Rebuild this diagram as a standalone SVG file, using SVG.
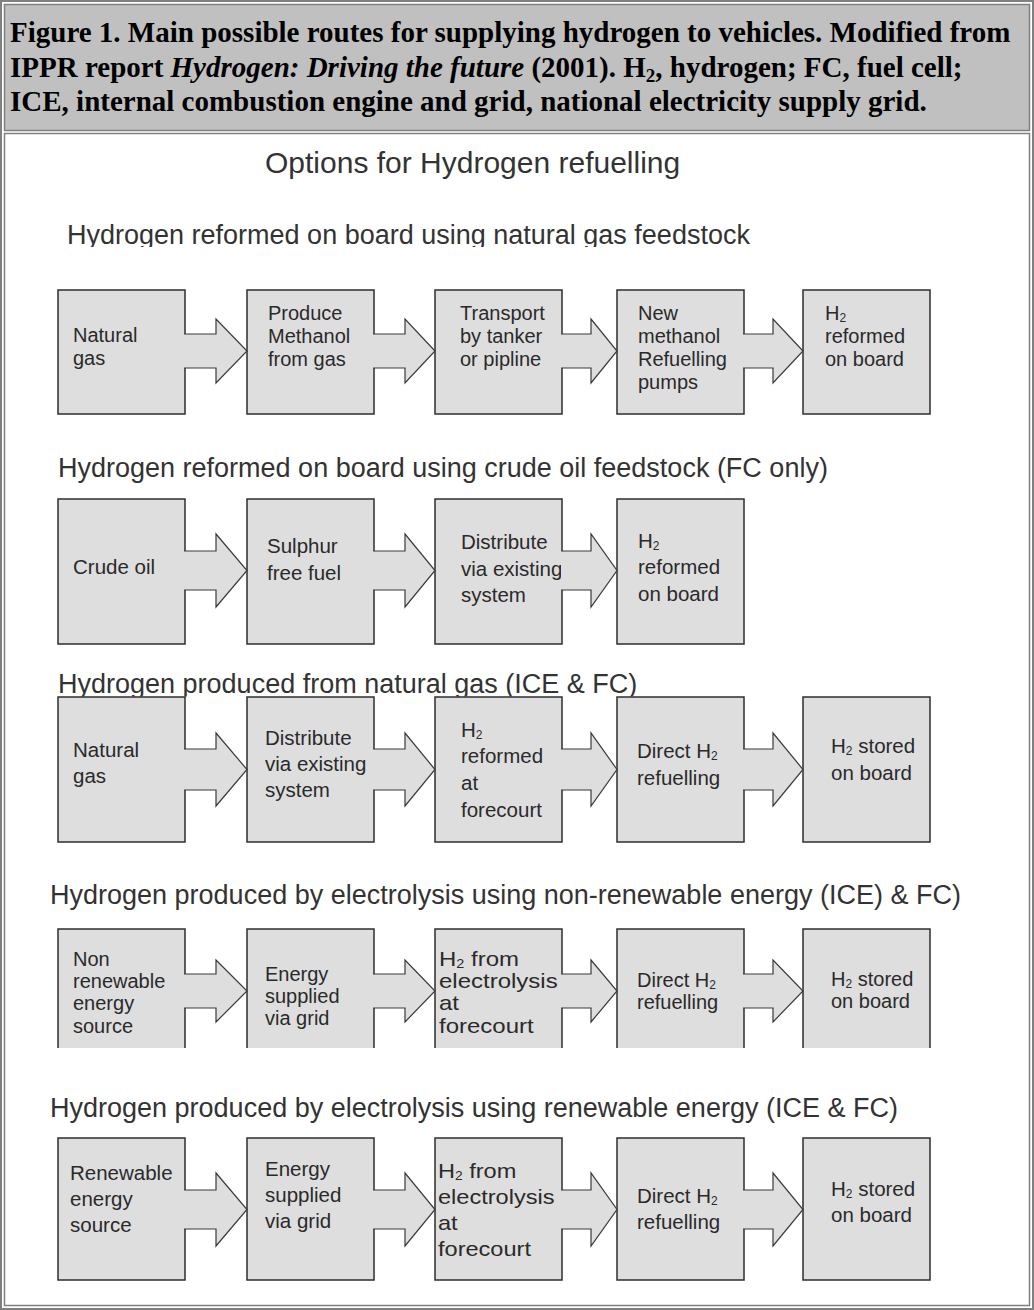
<svg xmlns="http://www.w3.org/2000/svg" width="1034" height="1310" viewBox="0 0 1034 1310">
<style>
.cap{font-family:"Liberation Serif","Times New Roman",serif;font-weight:bold;font-size:29px;fill:#000}
.ttl{font-family:"Liberation Sans",Arial,sans-serif;font-size:30px;fill:#333}
.hd{font-family:"Liberation Sans",Arial,sans-serif;font-size:27px;fill:#333}
.bx{fill:#dedede;stroke:#2e2e2e;stroke-width:1.5}
.ar{fill:#dedede;stroke:#3a3a3a;stroke-width:1.2;stroke-linejoin:miter}
.s{font-family:"Liberation Sans",Arial,sans-serif;font-size:20px;fill:#2a2a2a}
.m{font-family:"Liberation Sans",Arial,sans-serif;font-size:20.5px;fill:#2a2a2a}
.sub{font-size:12px}
</style>
<defs>
<clipPath id="clipH1"><rect x="0" y="200" width="1034" height="47"/></clipPath>
<clipPath id="clipH3"><rect x="0" y="650" width="1034" height="46.5"/></clipPath>
</defs>
<rect x="0" y="0" width="1034" height="1310" fill="#fff"/>
<g id="frame">
<rect x="1" y="1" width="1032" height="1308" fill="none" stroke="#808080" stroke-width="2"/>
<rect x="4.5" y="4.5" width="1025" height="126" fill="#c0c0c0" stroke="#808080" stroke-width="1.5"/>
<rect x="4.5" y="133.5" width="1025" height="1172" fill="#fff" stroke="#808080" stroke-width="1.5"/>
</g>
<g id="caption">
<text class="cap" x="10" y="42">Figure 1. Main possible routes for supplying hydrogen to vehicles. Modified from</text>
<text class="cap" x="10" y="76.5">IPPR report <tspan font-style="italic">Hydrogen: Driving the future</tspan> (2001). H<tspan font-size="19" dy="5">2</tspan><tspan dy="-5">, hydrogen; FC, fuel cell;</tspan></text>
<text class="cap" x="10" y="111">ICE, internal combustion engine and grid, national electricity supply grid.</text>
</g>
<g id="title"><text class="ttl" x="265" y="173">Options for Hydrogen refuelling</text></g>
<g id="headings">
<text class="hd" x="67" y="244" clip-path="url(#clipH1)">Hydrogen reformed on board using natural gas feedstock</text>
<text class="hd" x="58" y="477">Hydrogen reformed on board using crude oil feedstock (FC only)</text>
<text class="hd" x="58" y="693" clip-path="url(#clipH3)">Hydrogen produced from natural gas (ICE &amp; FC)</text>
<text class="hd" x="50" y="904">Hydrogen produced by electrolysis using non-renewable energy (ICE) &amp; FC)</text>
<text class="hd" x="50" y="1117">Hydrogen produced by electrolysis using renewable energy (ICE &amp; FC)</text>
</g>

<!-- Row 1 -->
<g id="r1n1"><rect class="bx" x="58" y="290" width="127" height="124"/>
<text class="s" x="73" y="342">Natural</text><text class="s" x="73" y="365">gas</text></g>
<g id="r1n2"><rect class="bx" x="247" y="290" width="127" height="124"/>
<text class="s" x="268" y="320">Produce</text><text class="s" x="268" y="343">Methanol</text><text class="s" x="268" y="366">from gas</text></g>
<g id="r1n3"><rect class="bx" x="435" y="290" width="127" height="124"/>
<text class="s" x="460" y="320">Transport</text><text class="s" x="460" y="343">by tanker</text><text class="s" x="460" y="366">or pipline</text></g>
<g id="r1n4"><rect class="bx" x="617" y="290" width="127" height="124"/>
<text class="s" x="638" y="320">New</text><text class="s" x="638" y="343">methanol</text><text class="s" x="638" y="366">Refuelling</text><text class="s" x="638" y="389">pumps</text></g>
<g id="r1n5"><rect class="bx" x="803" y="290" width="127" height="124"/>
<text class="s" x="825" y="320">H<tspan class="sub" dy="2">2</tspan></text><text class="s" x="825" y="343">reformed</text><text class="s" x="825" y="366">on board</text></g>

<!-- Row 2 -->
<g id="r2n1"><rect class="bx" x="58" y="499" width="127" height="145"/>
<text class="m" x="73" y="574">Crude oil</text></g>
<g id="r2n2"><rect class="bx" x="247" y="499" width="127" height="145"/>
<text class="m" x="267" y="553">Sulphur</text><text class="m" x="267" y="580">free fuel</text></g>
<g id="r2n3"><rect class="bx" x="435" y="499" width="127" height="145"/>
<text class="m" x="461" y="549">Distribute</text><text class="m" x="461" y="576">via existing</text><text class="m" x="461" y="602">system</text></g>
<g id="r2n4"><rect class="bx" x="617" y="499" width="127" height="145"/>
<text class="m" x="638" y="548">H<tspan class="sub" dy="2">2</tspan></text><text class="m" x="638" y="574">reformed</text><text class="m" x="638" y="601">on board</text></g>

<!-- Row 3 -->
<g id="r3n1"><rect class="bx" x="58" y="697" width="127" height="145"/>
<text class="m" x="73" y="757">Natural</text><text class="m" x="73" y="783">gas</text></g>
<g id="r3n2"><rect class="bx" x="247" y="697" width="127" height="145"/>
<text class="m" x="265" y="745">Distribute</text><text class="m" x="265" y="771">via existing</text><text class="m" x="265" y="797">system</text></g>
<g id="r3n3"><rect class="bx" x="435" y="697" width="127" height="145"/>
<text class="m" x="461" y="737">H<tspan class="sub" dy="2">2</tspan></text><text class="m" x="461" y="763">reformed</text><text class="m" x="461" y="790">at</text><text class="m" x="461" y="817">forecourt</text></g>
<g id="r3n4"><rect class="bx" x="617" y="697" width="127" height="145"/>
<text class="m" x="637" y="758">Direct H<tspan class="sub" dy="2">2</tspan></text><text class="m" x="637" y="785">refuelling</text></g>
<g id="r3n5"><rect class="bx" x="803" y="697" width="127" height="145"/>
<text class="m" x="831" y="753">H<tspan class="sub" dy="2">2</tspan><tspan dy="-2"> stored</tspan></text><text class="m" x="831" y="780">on board</text></g>

<!-- Row 4 -->
<g id="r4n1"><path class="bx" d="M58,1048 V929 H185 V1048"/>
<text class="s" x="73" y="966">Non</text><text class="s" x="73" y="988">renewable</text><text class="s" x="73" y="1010">energy</text><text class="s" x="73" y="1033">source</text></g>
<g id="r4n2"><path class="bx" d="M247,1048 V929 H374 V1048"/>
<text class="s" x="265" y="981">Energy</text><text class="s" x="265" y="1003">supplied</text><text class="s" x="265" y="1025">via grid</text></g>
<g id="r4n3"><path class="bx" d="M435,1048 V929 H562 V1048"/>
<g transform="matrix(1.2,0,0,1,-87.8,0)">
<text class="s" x="439" y="966">H<tspan class="sub" dy="2">2</tspan><tspan dy="-2"> from</tspan></text><text class="s" x="439" y="988">electrolysis</text><text class="s" x="439" y="1010">at</text><text class="s" x="439" y="1033">forecourt</text></g></g>
<g id="r4n4"><path class="bx" d="M617,1048 V929 H744 V1048"/>
<text class="s" x="637" y="987">Direct H<tspan class="sub" dy="2">2</tspan></text><text class="s" x="637" y="1009">refuelling</text></g>
<g id="r4n5"><path class="bx" d="M803,1048 V929 H930 V1048"/>
<text class="s" x="831" y="986">H<tspan class="sub" dy="2">2</tspan><tspan dy="-2"> stored</tspan></text><text class="s" x="831" y="1008">on board</text></g>

<!-- Row 5 -->
<g id="r5n1"><rect class="bx" x="58" y="1138" width="127" height="142"/>
<text class="m" x="70" y="1180">Renewable</text><text class="m" x="70" y="1206">energy</text><text class="m" x="70" y="1232">source</text></g>
<g id="r5n2"><rect class="bx" x="247" y="1138" width="127" height="142"/>
<text class="m" x="265" y="1176">Energy</text><text class="m" x="265" y="1202">supplied</text><text class="m" x="265" y="1228">via grid</text></g>
<g id="r5n3"><rect class="bx" x="435" y="1138" width="127" height="142"/>
<g transform="matrix(1.15,0,0,1,-65.7,0)">
<text class="m" x="438" y="1178">H<tspan class="sub" dy="2">2</tspan><tspan dy="-2"> from</tspan></text><text class="m" x="438" y="1204">electrolysis</text><text class="m" x="438" y="1230">at</text><text class="m" x="438" y="1256">forecourt</text></g></g>
<g id="r5n4"><rect class="bx" x="617" y="1138" width="127" height="142"/>
<text class="m" x="637" y="1203">Direct H<tspan class="sub" dy="2">2</tspan></text><text class="m" x="637" y="1229">refuelling</text></g>
<g id="r5n5"><rect class="bx" x="803" y="1138" width="127" height="142"/>
<text class="m" x="831" y="1196">H<tspan class="sub" dy="2">2</tspan><tspan dy="-2"> stored</tspan></text><text class="m" x="831" y="1222">on board</text></g>

<g id="connectors">
<!-- row 1: cy 351 -->
<path class="ar" d="M184,334 H216 V319 L247,351 L216,383 V368 H184"/>
<path class="ar" d="M373,334 H405 V319 L435,351 L405,383 V368 H373"/>
<path class="ar" d="M561,334 H591 V319 L617,351 L591,383 V368 H561"/>
<path class="ar" d="M743,334 H773 V319 L803,351 L773,383 V368 H743"/>
<!-- row 2: cy 570.5 -->
<path class="ar" d="M184,551 H216 V534 L247,570.5 L216,607 V590 H184"/>
<path class="ar" d="M373,551 H405 V534 L435,570.5 L405,607 V590 H373"/>
<path class="ar" d="M561,551 H591 V534 L617,570.5 L591,607 V590 H561"/>
<!-- row 3: cy 769.5 -->
<path class="ar" d="M184,749 H216 V733 L247,769.5 L216,806 V790 H184"/>
<path class="ar" d="M373,749 H405 V733 L435,769.5 L405,806 V790 H373"/>
<path class="ar" d="M561,749 H591 V733 L617,769.5 L591,806 V790 H561"/>
<path class="ar" d="M743,749 H773 V733 L803,769.5 L773,806 V790 H743"/>
<!-- row 4: cy 991 -->
<path class="ar" d="M184,974 H216 V960 L247,991 L216,1022 V1008 H184"/>
<path class="ar" d="M373,974 H405 V960 L435,991 L405,1022 V1008 H373"/>
<path class="ar" d="M561,974 H591 V960 L617,991 L591,1022 V1008 H561"/>
<path class="ar" d="M743,974 H773 V960 L803,991 L773,1022 V1008 H743"/>
<!-- row 5: cy 1209.5 -->
<path class="ar" d="M184,1190 H216 V1173 L247,1209.5 L216,1246 V1229 H184"/>
<path class="ar" d="M373,1190 H405 V1173 L435,1209.5 L405,1246 V1229 H373"/>
<path class="ar" d="M561,1190 H591 V1173 L617,1209.5 L591,1246 V1229 H561"/>
<path class="ar" d="M743,1190 H773 V1173 L803,1209.5 L773,1246 V1229 H743"/>
</g>
</svg>
